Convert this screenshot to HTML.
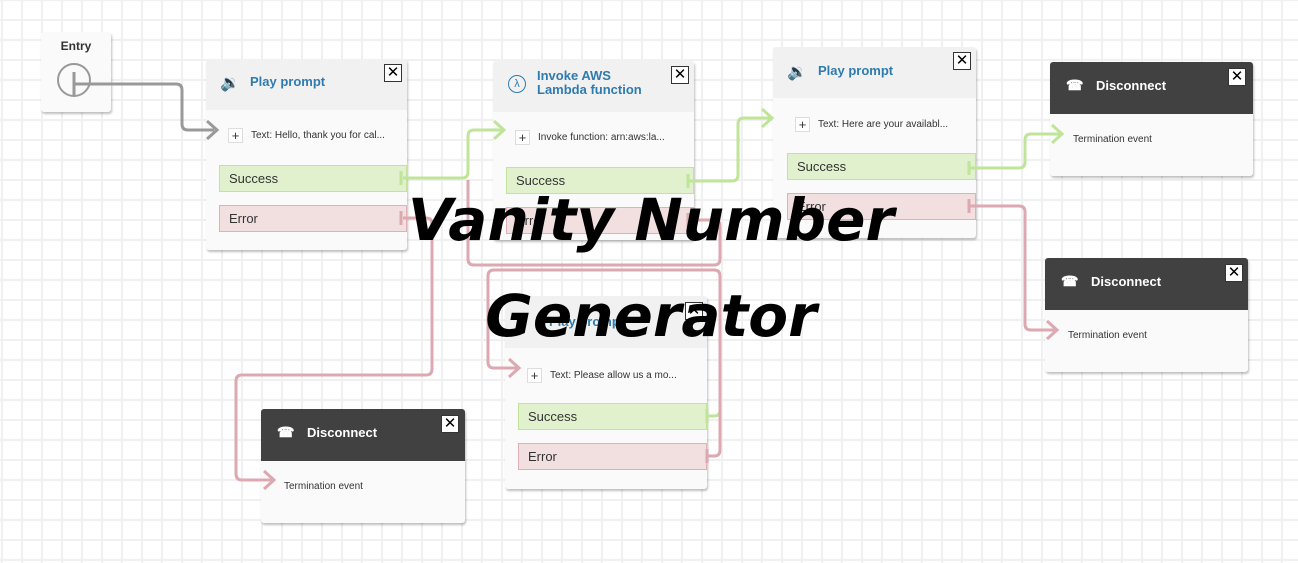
<!DOCTYPE html>
<html><head><style>
body{margin:0;width:1298px;height:563px;overflow:hidden;background:#fff;font-family:"Liberation Sans",sans-serif;position:relative}
.grid{position:absolute;left:0;top:0;width:1298px;height:563px;background-image:linear-gradient(#f0f0f0 2px,transparent 2px),linear-gradient(90deg,#f0f0f0 2px,transparent 2px);background-size:20px 20px;background-position:0 -1px,1px 0}
.b{position:absolute;background:#fafafa;border-radius:3px;box-shadow:1px 2px 2px rgba(0,0,0,.25)}
.h{position:absolute;left:0;right:0;top:0;background:#f1f1f1;border-radius:3px 3px 0 0}
.t{position:absolute;color:#2e7bb0;font-weight:bold;font-size:13px}
.d .h{background:#414141}
.d .t{color:#fff}
.x{position:absolute;width:16px;height:16px;border:1px solid #333;background:#fff;font-size:15px;line-height:15px;text-align:center;color:#000}
.row{position:absolute;font-size:10px;color:#333}
.pl{display:inline-block;width:13px;height:13px;border:1px solid #ddd;background:#fff;text-align:center;line-height:13px;font-size:13px;margin-right:8px;vertical-align:middle}
.s,.e{position:absolute;height:27px;font-size:13px;line-height:26px;color:#333;padding-left:9px;box-sizing:border-box}
.s{background:#e1f1cd;border:1px solid #bfe49a}
.e{background:#f2e0e0;border:1px solid #e0b0b6}
.title{position:absolute;left:0;width:1298px;text-align:center;font-family:"DejaVu Sans",sans-serif;font-weight:bold;font-style:italic;font-size:58px;color:#000}
</style></head><body>
<div class="grid"></div>
<div class="b" style="left:41px;top:32px;width:70px;height:80px"><div style="position:absolute;top:7px;width:70px;text-align:center;font-size:12px;font-weight:bold;color:#333">Entry</div>
<div style="position:absolute;left:16px;top:31px;width:34px;height:34px;border:2px solid #999;border-radius:50%;box-sizing:border-box"></div></div>

<div class="b" style="left:206px;top:59px;width:201px;height:191px"><div class="h" style="height:51px"></div>
<div class="t" style="left:44px;top:15px">Play prompt</div><div class="t" style="left:14px;top:14px;font-size:16px">&#128265;</div>
<div class="x" style="left:178px;top:5px">✕</div>
<div class="row" style="left:22px;top:69px"><span class="pl">+</span>Text: Hello, thank you for cal...</div>
<div class="s" style="left:13px;top:106px;width:188px">Success</div><div class="e" style="left:13px;top:146px;width:188px">Error</div></div>

<div class="b" style="left:493px;top:61px;width:201px;height:179px"><div class="h" style="height:51px"></div>
<div class="t" style="left:44px;top:8px;line-height:14px">Invoke AWS<br>Lambda function</div>
<div style="position:absolute;left:15px;top:14px;width:16px;height:16px;border:1.5px solid #2e7bb0;border-radius:50%;color:#2e7bb0;font-size:11px;text-align:center;line-height:16px">λ</div>
<div class="x" style="left:178px;top:5px">✕</div>
<div class="row" style="left:22px;top:69px"><span class="pl">+</span>Invoke function: arn:aws:la...</div>
<div class="s" style="left:13px;top:106px;width:188px">Success</div><div class="e" style="left:13px;top:146px;width:188px">Error</div></div>

<div class="b" style="left:773px;top:47px;width:203px;height:191px"><div class="h" style="height:51px"></div>
<div class="t" style="left:45px;top:16px">Play prompt</div><div class="t" style="left:14px;top:15px;font-size:16px">&#128265;</div>
<div class="x" style="left:180px;top:5px">✕</div>
<div class="row" style="left:22px;top:70px"><span class="pl">+</span>Text: Here are your availabl...</div>
<div class="s" style="left:14px;top:106px;width:189px">Success</div><div class="e" style="left:14px;top:146px;width:189px">Error</div></div>

<div class="b" style="left:505px;top:296px;width:202px;height:193px"><div class="h" style="height:52px"></div>
<div class="t" style="left:44px;top:18px">Play prompt</div>
<div class="x" style="left:180px;top:6px">✕</div>
<div class="row" style="left:22px;top:72px"><span class="pl">+</span>Text: Please allow us a mo...</div>
<div class="s" style="left:13px;top:107px;width:189px">Success</div><div class="e" style="left:13px;top:147px;width:189px">Error</div></div>

<div class="b d" style="left:1050px;top:62px;width:203px;height:114px"><div class="h" style="height:52px"></div>
<div class="t" style="left:46px;top:16px">Disconnect</div><div class="t" style="left:16px;top:15px;font-size:14px">☎</div>
<div class="x" style="left:178px;top:6px">✕</div>
<div class="row" style="left:23px;top:72px">Termination event</div></div>

<div class="b d" style="left:1045px;top:258px;width:203px;height:114px"><div class="h" style="height:52px"></div>
<div class="t" style="left:46px;top:16px">Disconnect</div><div class="t" style="left:16px;top:15px;font-size:14px">☎</div>
<div class="x" style="left:180px;top:6px">✕</div>
<div class="row" style="left:23px;top:72px">Termination event</div></div>

<div class="b d" style="left:261px;top:409px;width:204px;height:114px"><div class="h" style="height:52px"></div>
<div class="t" style="left:46px;top:16px">Disconnect</div><div class="t" style="left:16px;top:15px;font-size:14px">☎</div>
<div class="x" style="left:180px;top:6px">✕</div>
<div class="row" style="left:23px;top:72px">Termination event</div></div>

<svg width="1298" height="563" style="position:absolute;left:0;top:0" fill="none" stroke-width="3">
<g stroke="#999"><path d="M74 84 H176 q6 0 6 6 V124 q0 6 6 6 H214"/><path d="M74 72 V96"/><path d="M207 121 l10 9 -10 9"/></g>
<g stroke="#bfe49a">
<path d="M403 178 H462 q6 0 6 -6 V136 q0 -6 6 -6 H502"/><path d="M494 121 l10 9 -10 9"/>
<path d="M689 181 H732 q6 0 6 -6 V124 q0 -6 6 -6 H770"/><path d="M762 109 l10 9 -10 9"/>
<path d="M970 168 H1019 q6 0 6 -6 V140 q0 -6 6 -6 H1060"/><path d="M1052 125 l10 9 -10 9"/>
<path d="M706 416 H714 q6 0 6 -6 V275"/>
<path d="M401 171 V185 M688 174 V188 M969 161 V175 M707 409 V423"/>
</g>
<g stroke="#dca9b0">
<path d="M403 218 H426 q6 0 6 6 V369 q0 6 -6 6 H242 q-6 0 -6 6 V474 q0 6 6 6 H272"/><path d="M264 471 l10 9 -10 9"/>
<path d="M689 220 H714 q6 0 6 6 V259 q0 6 -6 6 H474 q-6 0 -6 -6 V180"/>
<path d="M706 456 H714 q6 0 6 -6 V276 q0 -6 -6 -6 H494 q-6 0 -6 6 V362 q0 6 6 6 H518"/><path d="M509 359 l10 9 -10 9"/>
<path d="M970 206 H1019 q6 0 6 6 V324 q0 6 6 6 H1056"/><path d="M1047 321 l10 9 -10 9"/>
<path d="M401 211 V225 M688 213 V227 M969 199 V213 M707 449 V463"/>
</g>
</svg>

<div class="title" style="top:186px;left:2px">Vanity Number</div>
<div class="title" style="top:282px;left:2px">Generator</div>
</body></html>
